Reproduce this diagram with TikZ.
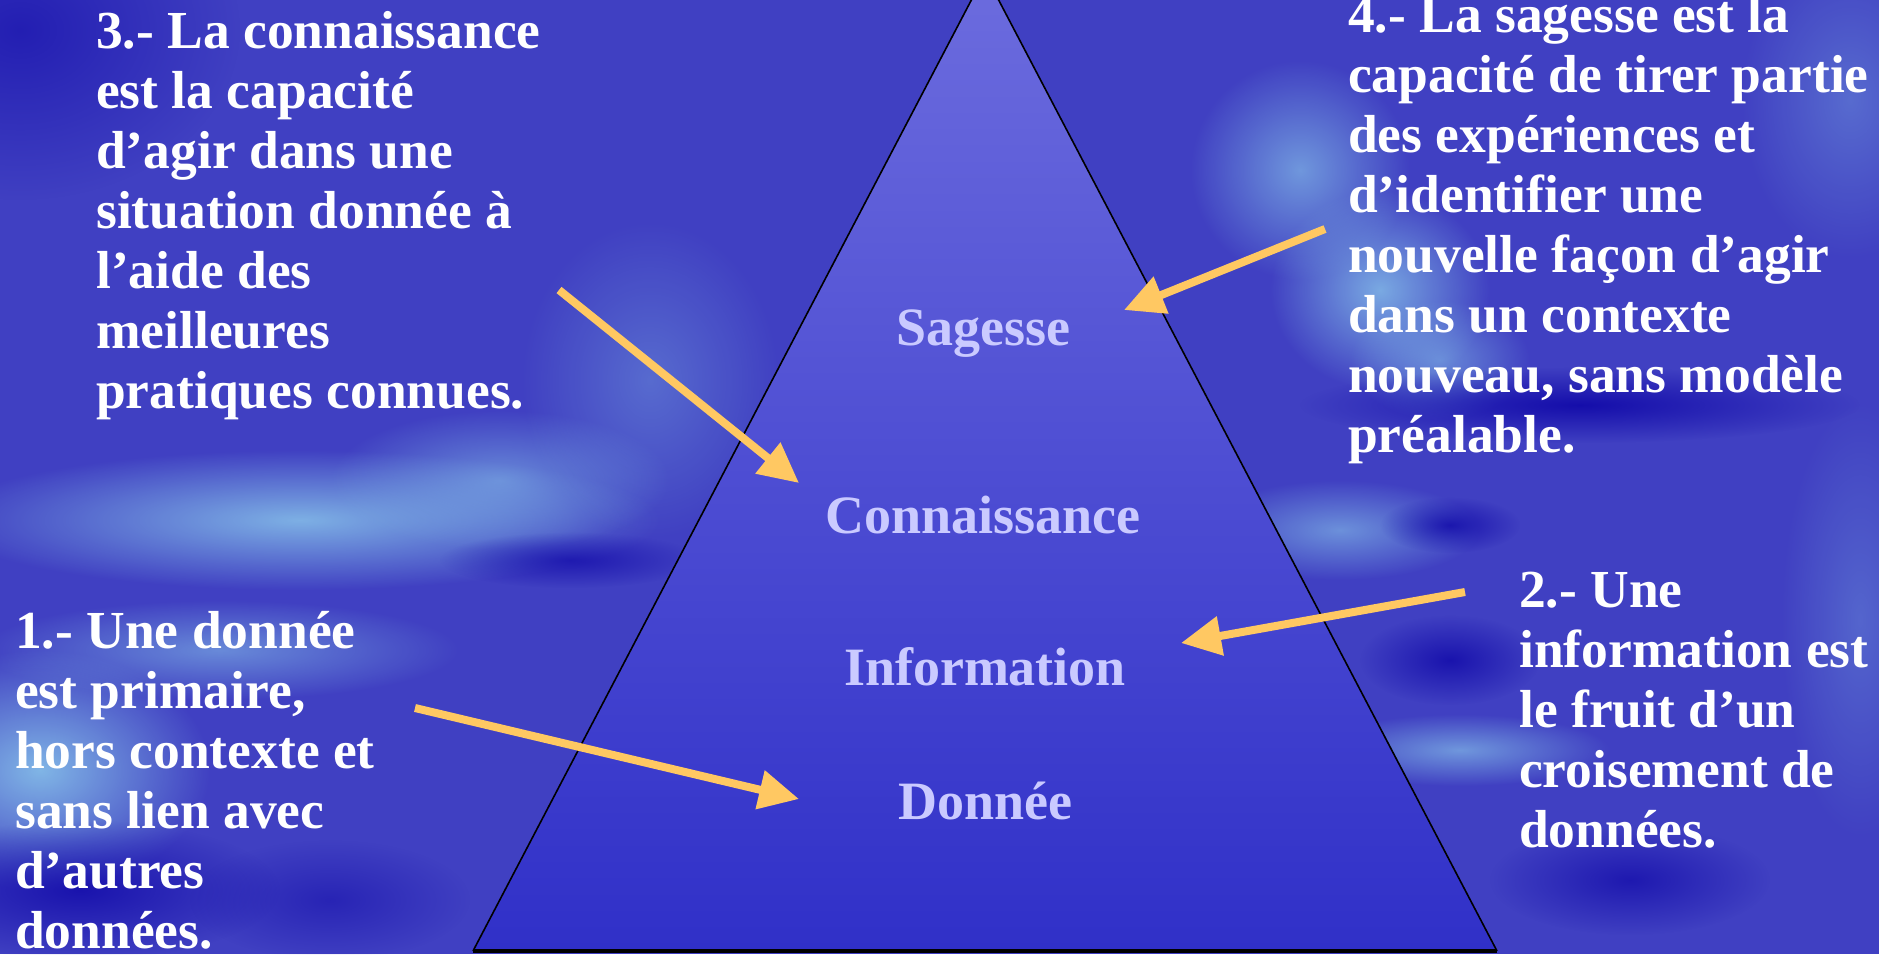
\documentclass[tikz,border=0pt]{standalone}
\usepackage{fontspec}
\setmainfont{Liberation Serif}
\usetikzlibrary{arrows.meta,fadings}
\tikzfading[name=softblob, inner color=transparent!0, outer color=transparent!100]
\definecolor{bgbase}{HTML}{4040C2}
\definecolor{cloudc}{HTML}{84BCE8}
\definecolor{darkc}{HTML}{1008A8}
\definecolor{tritop}{HTML}{6C6CDE}
\definecolor{tribot}{HTML}{3030C8}
\definecolor{labc}{HTML}{CACAFF}
\definecolor{arrowc}{HTML}{FFC862}
\tikzset{
  cloud/.style={fill=cloudc, path fading=softblob, fill opacity=#1},
  cloud/.default=0.8,
  darkspot/.style={fill=darkc, path fading=softblob, fill opacity=#1},
  darkspot/.default=0.8,
  bodytext/.style={text=white, font=\fontsize{53.5}{60}\selectfont\bfseries,
    align=left, inner sep=0pt, anchor=base west},
  levellabel/.style={text=labc, font=\fontsize{54}{60}\selectfont\bfseries,
    inner sep=0pt, anchor=base},
  yarrow/.style={draw=arrowc, line width=8pt,
    -{Triangle[length=40pt, width=38pt]}},
}
\begin{document}
\begin{tikzpicture}[x=1pt, y=-1pt]
\useasboundingbox (0,0) rectangle (1879,954);
% background
\begin{scope}
\clip (0,0) rectangle (1879,954);
\fill[bgbase] (0,0) rectangle (1879,954);
\fill[darkspot=0.6] (20,30) ellipse [x radius=220, y radius=170];
\fill[cloud=0.9] (300,520) ellipse [x radius=360, y radius=70];
\fill[cloud=0.6] (500,480) ellipse [x radius=170, y radius=70];
\fill[cloud=0.35] (650,380) ellipse [x radius=130, y radius=160];
\fill[cloud=0.95] (40,770) ellipse [x radius=170, y radius=120];
\fill[cloud=0.6] (220,650) ellipse [x radius=240, y radius=50];
\fill[darkspot=0.7] (570,560) ellipse [x radius=130, y radius=28];
\fill[darkspot=0.8] (80,890) ellipse [x radius=200, y radius=70];
\fill[darkspot=0.5] (330,900) ellipse [x radius=140, y radius=60];
\fill[cloud=0.7] (1300,170) ellipse [x radius=110, y radius=110];
\fill[cloud=0.85] (1380,290) ellipse [x radius=110, y radius=100];
\fill[cloud=0.6] (1440,360) ellipse [x radius=90, y radius=60];
\fill[darkspot=0.9] (1580,405) ellipse [x radius=280, y radius=38];
\fill[cloud=0.65] (1340,530) ellipse [x radius=140, y radius=50];
\fill[cloud=0.7] (1460,750) ellipse [x radius=150, y radius=36];
\fill[darkspot=0.8] (1450,525) ellipse [x radius=70, y radius=28];
\fill[darkspot=0.8] (1450,660) ellipse [x radius=90, y radius=45];
\fill[darkspot=0.7] (1630,880) ellipse [x radius=140, y radius=55];
\fill[cloud=0.35] (1850,100) ellipse [x radius=110, y radius=160];
\fill[cloud=0.3] (1860,620) ellipse [x radius=80, y radius=220];
\end{scope}
% pyramid
\coordinate (apex) at (985,-26);
\coordinate (bl) at (473,951);
\coordinate (br) at (1497,951);
\shade[top color=tritop, bottom color=tribot] (apex) -- (bl) -- (br) -- cycle;
\draw[line width=1.6pt, line join=round] (bl) -- (apex) -- (br);
\draw[line width=3.5pt] (bl) -- (br);
% level labels
\node[levellabel] (sag) at (983,345) {Sagesse};
\node[levellabel] (con) at (983,533) {Connaissance};
\node[levellabel] (inf) at (985,685) {Information};
\node[levellabel] (don) at (985,819) {Donnée};
% text blocks (anchor = baseline of the last line)
\node[bodytext] (t3) at (96,408) {3.- La connaissance\\est la capacité\\d’agir dans une\\situation donnée à\\l’aide des\\meilleures\\pratiques connues.};
\node[bodytext] (t4) at (1348,452) {4.- La sagesse est la\\capacité de tirer partie\\des expériences et\\d’identifier une\\nouvelle façon d’agir\\dans un contexte\\nouveau, sans modèle\\préalable.};
\node[bodytext] (t1) at (15,948) {1.- Une donnée\\est primaire,\\hors contexte et\\sans lien avec\\d’autres\\données.};
\node[bodytext] (t2) at (1519,847) {2.- Une\\information est\\le fruit d’un\\croisement de\\données.};
% arrows
\coordinate (a3s) at (559,290);  \coordinate (a3e) at (799,483);
\coordinate (a4s) at (1325,229); \coordinate (a4e) at (1124,310);
\coordinate (a2s) at (1465,592); \coordinate (a2e) at (1181,643);
\coordinate (a1s) at (415,708);  \coordinate (a1e) at (799,799);
\draw[yarrow] (a3s) -- (a3e);
\draw[yarrow] (a4s) -- (a4e);
\draw[yarrow] (a2s) -- (a2e);
\draw[yarrow] (a1s) -- (a1e);
\end{tikzpicture}
\end{document}
